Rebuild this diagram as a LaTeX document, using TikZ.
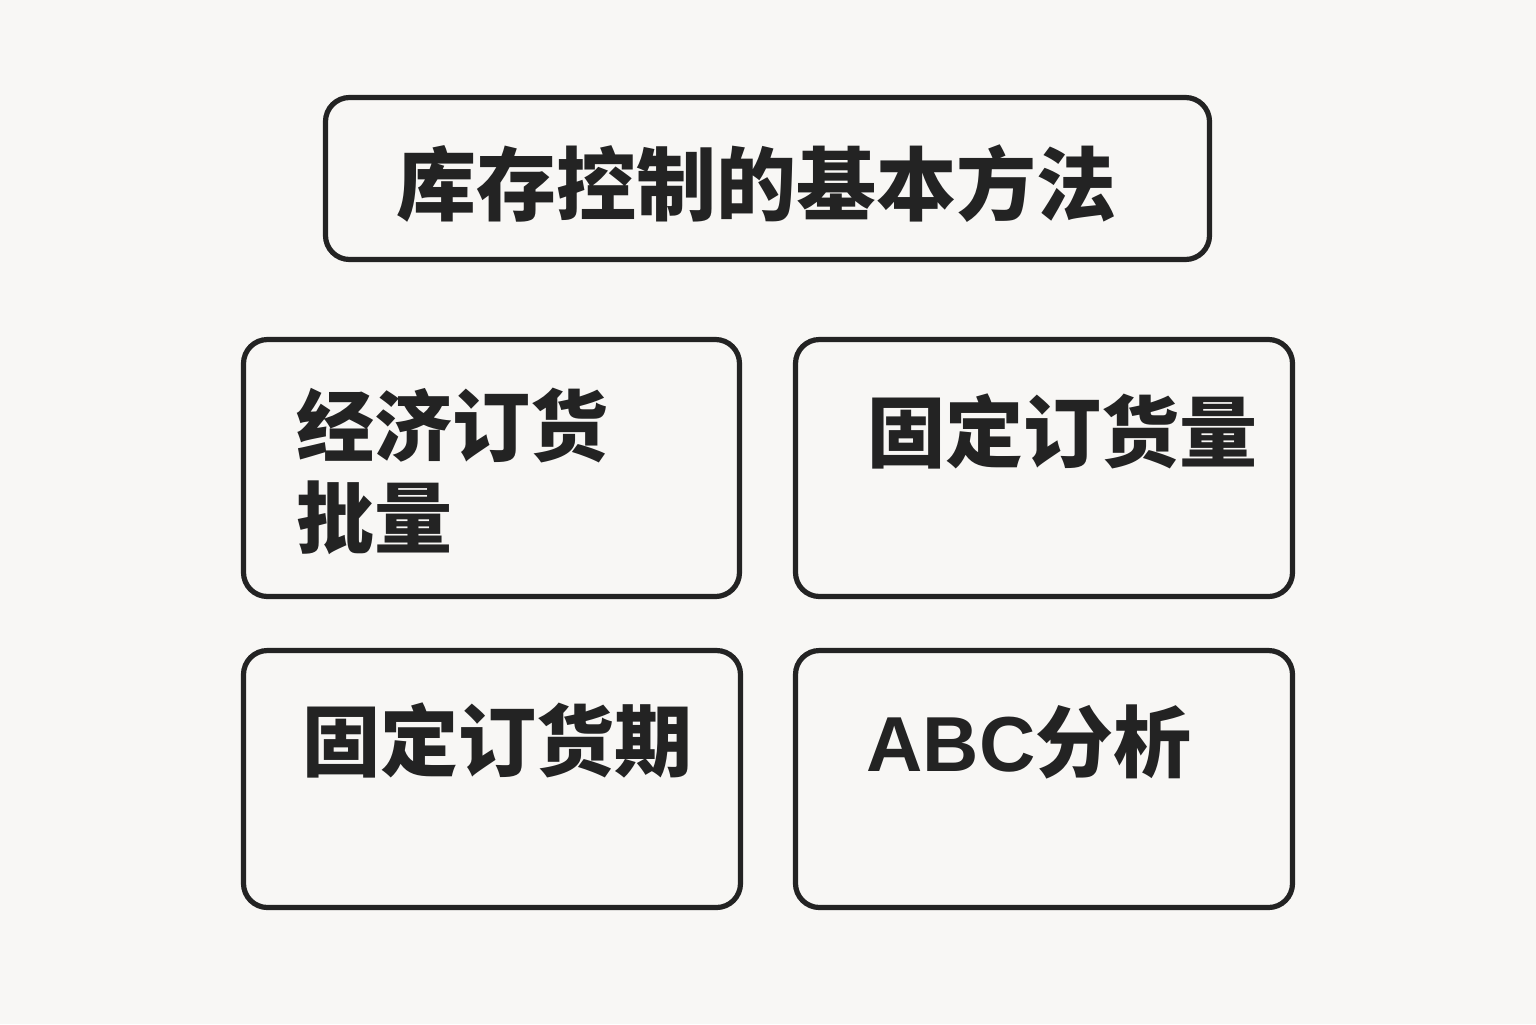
\documentclass[tikz,border=0pt]{standalone}
\usepackage{fontspec}
\setmainfont{Noto Sans CJK SC}
\newfontfamily\latinfont{Liberation Sans}
\definecolor{ink}{HTML}{232323}
\definecolor{bg}{HTML}{F8F7F5}
\begin{document}
\begin{tikzpicture}[x=0.5pt,y=-0.5pt,
  box/.style={draw=ink,line width=2.6pt,rounded corners=12pt,fill=bg,inner sep=0pt},
  lbl/.style={text=ink,font=\fontsize{39}{46}\selectfont\bfseries,inner sep=0pt,anchor=base west}]
\fill[bg] (0,0) rectangle (1536,1024);
\useasboundingbox (0,0) rectangle (1536,1024);
\node[box,minimum width=442pt,minimum height=81pt] (title) at (767.5,178.5) {};
\node[box,minimum width=248pt,minimum height=128.5pt] (b1) at (491.5,468) {};
\node[box,minimum width=248.5pt,minimum height=128.5pt] (b2) at (1044,468) {};
\node[box,minimum width=248.5pt,minimum height=128.5pt] (b3) at (492,779) {};
\node[box,minimum width=248.5pt,minimum height=128.5pt] (b4) at (1044,779) {};
\node[lbl,font=\fontsize{40}{46}\selectfont\bfseries,anchor=base] (t0) at (756,214) {库存控制的基本方法};
\node[lbl] (t1a) at (296,455) {经济订货};
\node[lbl] (t1b) at (296,547) {批量};
\node[lbl] (t2) at (867,461) {固定订货量};
\node[lbl] (t3) at (302,770) {固定订货期};
\node[lbl] (t4) at (866,771) {{\latinfont ABC}分析};
\end{tikzpicture}
\end{document}
